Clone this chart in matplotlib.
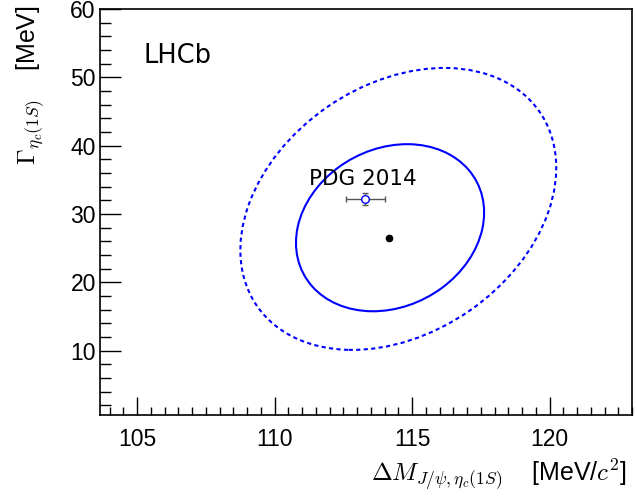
import matplotlib
matplotlib.use("Agg")
import matplotlib.pyplot as plt
from matplotlib.patches import Ellipse
from matplotlib.ticker import MultipleLocator

plt.rcParams['font.family'] = ['Liberation Sans', 'DejaVu Sans']
plt.rcParams['mathtext.fontset'] = 'cm'

# contours: centre, full width/height (data units), tilt
contour_names = ['solid', 'dashed']
contour_cx = [114.2, 114.5]
contour_cy = [28.0, 30.75]
contour_w = [6.72, 10.95]
contour_h = [24.48, 41.4]
contour_angle = [-3.15, -5.0]
contour_styles = ['-', (0, (2.0, 1.6))]

# best fit point
fit_x = [114.16]
fit_y = [26.5]

# PDG 2014 point
pdg_x = [113.3]
pdg_y = [32.2]
pdg_xerr = [0.7]
pdg_yerr = [0.9]

xticks = [105, 110, 115, 120]
yticks = [10, 20, 30, 40, 50, 60]

fig = plt.figure(figsize=(6.37, 4.99), dpi=100)
ax = fig.add_axes([100 / 637, 1 - 415 / 499, 532 / 637, 406 / 499])

for cx, cy, w, h, ang, ls in zip(contour_cx, contour_cy, contour_w, contour_h,
                                 contour_angle, contour_styles):
    e = Ellipse((cx, cy), w, h, angle=ang, fill=False, edgecolor='#0000ff',
                linewidth=1.5, linestyle=ls)
    ax.add_patch(e)

ax.plot(fit_x, fit_y, 'o', color='black', markersize=4.5, zorder=5)

ax.errorbar(pdg_x, pdg_y, xerr=pdg_xerr, yerr=pdg_yerr, fmt='o',
            markerfacecolor='white', markeredgecolor='#0000ff', markersize=5.5,
            markeredgewidth=1.0, ecolor='#555555', elinewidth=1.0, capsize=2,
            capthick=1.0, zorder=6)

ax.text(113.2, 34.3, 'PDG 2014', fontsize=15.5, family='DejaVu Sans',
        ha='center', va='baseline')
ax.text(0.081, 0.867, 'LHCb', fontsize=18.5, family='DejaVu Sans',
        transform=ax.transAxes, ha='left', va='baseline')

ax.set_xlim(103.65, 123.0)
ax.set_ylim(0.6, 60)
ax.set_xticks(xticks)
ax.set_yticks(yticks)
ax.xaxis.set_minor_locator(MultipleLocator(0.5))
ax.yaxis.set_minor_locator(MultipleLocator(2))

ax.tick_params(which='both', direction='in', top=False, right=False,
               labelsize=16.5, width=1.0)
ax.tick_params(axis='x', which='major', length=13, pad=9)
ax.tick_params(axis='x', which='minor', length=6)
ax.tick_params(axis='y', which='major', length=15, pad=3)
ax.tick_params(axis='y', which='minor', length=8)
for s in ax.spines.values():
    s.set_linewidth(1.2)

ax.set_xlabel(r'$\Delta M_{J/\psi,\eta_c(1S)}$    [MeV/$c^2$]', fontsize=18,
              loc='right')
ax.xaxis.set_label_coords(0.99, -0.105)
ax.set_ylabel(r'$\Gamma_{\eta_c(1S)}$    [MeV]', fontsize=18, loc='top')
ax.yaxis.set_label_coords(-0.1, 1.01)

fig.savefig('out.png', dpi=100)
